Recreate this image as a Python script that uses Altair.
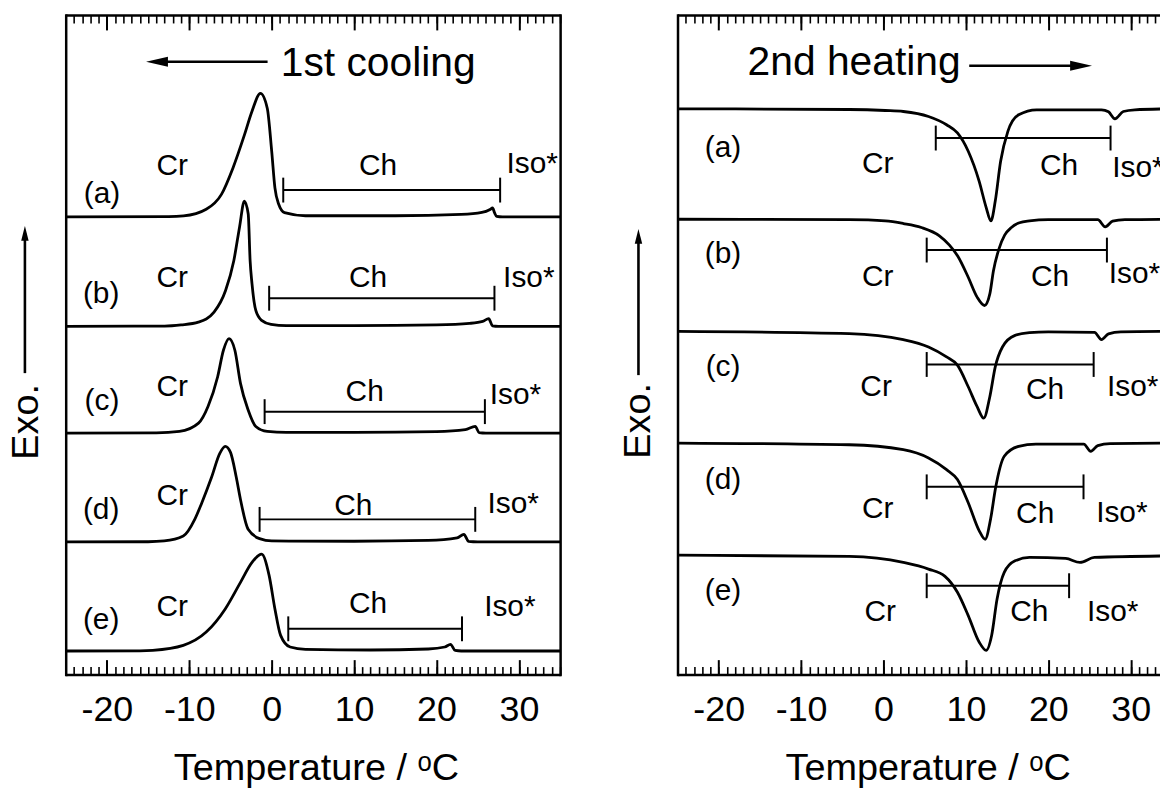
import altair as alt
import pandas as pd

FONT = "Liberation Sans"

# ---------------- data ----------------
samples = ["(a)", "(b)", "(c)", "(d)", "(e)"]
major_ticks = [-20, -10, 0, 10, 20, 30]
minor_ticks = list(range(-25, 36))

# 1st cooling: temperature (degC) and exo-up signal (a.u.) relative to each trace baseline
cool_a_T = [-25, -12.5, -10.7, -7.95, -6.1, -4.7, -3.3, -2.4, -1.37, -0.54, 0.0, 0.39, 0.85, 1.55, 4.1, 15, 23, 25.5, 26.5, 26.8, 27.05, 27.3, 28, 35]
cool_a_S = [0, 0.03, 0.1, 0.77, 2.27, 4.93, 8.27, 10.6, 12.43, 10.93, 6.6, 2.93, 1.27, 0.43, 0.12, 0.12, 0.25, 0.45, 0.75, 0.9, 0.4, 0.05, 0, 0]
cool_b_T = [-25, -13, -11, -8.9, -7.0, -5.6, -4.6, -3.9, -3.32, -2.85, -2.62, -2.39, -1.93, -1.23, -0.08, 1.78, 10, 20, 24, 25.6, 26.33, 26.8, 27.5, 35]
cool_b_S = [0, 0.03, 0.15, 0.43, 1.43, 3.6, 6.6, 10.0, 12.6, 11.3, 6.6, 4.27, 1.6, 0.6, 0.2, 0.07, 0.07, 0.15, 0.3, 0.5, 0.77, 0.05, 0, 0]
cool_c_T = [-25, -14, -11.19, -8.88, -7.73, -6.56, -5.86, -5.18, -4.47, -3.79, -2.86, -1.93, -0.54, 1.78, 10, 20, 23.5, 24.7, 25.17, 26, 35]
cool_c_S = [0, 0.03, 0.17, 1.0, 2.67, 5.67, 8.33, 9.5, 8.33, 5.0, 2.33, 0.67, 0.17, 0.07, 0.07, 0.15, 0.35, 0.67, 0.05, 0, 0]
cool_d_T = [-25, -15, -13.05, -10.73, -9.34, -8.5, -7.3, -6.3, -5.64, -5.0, -4.3, -3.79, -2.86, -1.47, 0, 10, 19, 22.5, 23.32, 23.9, 25, 35]
cool_d_S = [0, 0.02, 0.1, 0.6, 2.27, 3.9, 6.5, 8.9, 9.6, 9.0, 6.5, 4.27, 1.27, 0.33, 0.1, 0.07, 0.15, 0.4, 0.77, 0.05, 0, 0]
cool_e_T = [-25, -16, -14.44, -10.73, -7.95, -5.64, -3.79, -2.39, -1.23, -0.31, 0.39, 1.08, 2.24, 4.1, 12, 19, 21.0, 21.7, 22.26, 23, 35]
cool_e_S = [0, 0.02, 0.07, 0.57, 1.9, 4.23, 6.9, 8.9, 9.73, 7.57, 4.23, 1.57, 0.4, 0.17, 0.1, 0.2, 0.4, 0.67, 0.05, 0, 0]
cool_offset = [46.0, 35.0, 24.27, 13.33, 2.37]

# 2nd heating: endo-down signal (a.u.)
heat_a_T = [-25, -4.16, 0.22, 2.4, 5.46, 7.65, 8.97, 10.28, 11.6, 12.46, 13.03, 13.56, 14.21, 15.09, 16.4, 18.58, 26.45, 27.3, 28.08, 29.1, 30.5, 35]
heat_a_S = [0, -0.07, -0.17, -0.27, -0.77, -1.6, -2.43, -4.27, -7.27, -9.93, -11.27, -9.27, -5.27, -2.27, -0.6, -0.1, -0.1, -0.3, -1.0, -0.27, -0.1, 0]
heat_b_T = [-25, -4.16, 0.22, 2.4, 4.59, 6.78, 8.0, 9.0, 10.28, 11.36, 12.25, 12.9, 13.34, 14.0, 14.7, 15.52, 16.5, 17.71, 20, 26.0, 26.9, 27.8, 29.3, 35]
heat_b_S = [0, -0.05, -0.17, -0.43, -0.83, -1.67, -2.6, -3.7, -5.83, -7.83, -8.67, -7.5, -5.17, -3.0, -1.6, -0.83, -0.35, -0.17, -0.05, -0.05, -0.77, -0.2, -0.05, 0]
heat_c_T = [-25, -4.16, 2.4, 5.46, 7.65, 8.97, 10.28, 11.36, 12.16, 12.9, 13.56, 14.43, 15.96, 17.71, 20, 25.6, 26.45, 27.3, 28.8, 35]
heat_c_S = [0, -0.23, -0.83, -1.57, -2.57, -3.4, -5.57, -7.57, -8.73, -6.57, -3.57, -1.57, -0.4, -0.13, -0.05, -0.1, -0.83, -0.25, -0.05, 0]
heat_d_T = [-25, -4.16, 2.4, 5.46, 7.65, 8.97, 10.28, 11.6, 12.33, 13.0, 13.6, 14.65, 16.4, 18.5, 24.3, 25.15, 26.0, 27.5, 35]
heat_d_S = [0, -0.17, -0.67, -1.5, -2.67, -3.67, -6.0, -8.8, -9.67, -7.6, -4.5, -1.33, -0.33, -0.1, -0.1, -0.83, -0.25, -0.05, 0]
heat_e_T = [-25, -4.16, 2.4, 5.46, 7.46, 8.97, 10.28, 11.6, 12.46, 13.12, 13.78, 14.65, 15.96, 17.71, 22.1, 23.84, 25.59, 35]
heat_e_S = [0, -0.13, -0.73, -1.4, -2.13, -3.73, -6.07, -8.73, -9.57, -8.07, -4.4, -1.73, -0.57, -0.23, -0.33, -0.73, -0.23, -0.07]
heat_offset = [56.87, 45.77, 34.5, 23.27, 12.0]

# Ch range brackets (degC) and their level (a.u.)
cool_ch_lo = [1.4, -0.31, -0.86, -1.47, 2.01]
cool_ch_hi = [27.72, 27.03, 25.87, 24.7, 23.09]
cool_ch_y = [48.7, 37.83, 26.43, 15.6, 4.6]
heat_ch_lo = [6.34, 5.24, 5.24, 5.24, 5.24]
heat_ch_hi = [27.55, 27.11, 25.5, 24.27, 22.52]
heat_ch_y = [53.93, 42.67, 31.17, 18.87, 8.93]

# text anchors
cool_tag_x = [-20.6, -20.7, -20.6, -20.7, -20.7]
cool_tag_y = [48.3, 38.2, 27.5, 16.5, 5.5]
cool_cr_x = [-12.08, -12.08, -12.08, -12.08, -12.08]
cool_cr_y = [51.1, 39.9, 28.9, 17.9, 6.8]
cool_chl_x = [12.91, 11.7, 11.28, 9.9, 11.7]
cool_chl_y = [51.1, 39.9, 28.4, 16.9, 7.1]
cool_iso_x = [31.62, 31.2, 29.57, 29.3, 28.9]
cool_iso_y = [51.3, 39.9, 28.1, 17.1, 6.8]

heat_tag_x = [-19.47, -19.47, -19.47, -19.47, -19.47]
heat_tag_y = [52.93, 42.3, 30.93, 19.6, 8.43]
heat_cr_x = [-0.7, -0.7, -0.9, -0.7, -0.4]
heat_cr_y = [51.27, 39.93, 28.93, 16.6, 6.27]
heat_chl_x = [21.3, 20.2, 19.6, 18.4, 17.7]
heat_chl_y = [51.1, 39.93, 28.6, 16.1, 6.27]
heat_iso_x = [27.76, 27.34, 27.12, 25.8, 24.7]
heat_iso_y = [50.93, 40.27, 28.93, 16.27, 6.27]

cool_head = {"text": "1st cooling", "x": 1.1, "y": 61.4, "arrow_tail": -0.5, "arrow_tip": -15.25, "arrow_y": 61.6}
heat_head = {"text": "2nd heating", "x": -16.5, "y": 61.5, "arrow_tail": 10.4, "arrow_tip": 25.3, "arrow_y": 61.2}
cool_exo = {"x": -29.95, "tail": 30.3, "tip": 45.1, "tx": -29.7, "ty": 25.4}
heat_exo = {"x": -29.74, "tail": 30.1, "tip": 44.8, "tx": -29.7, "ty": 25.5}

# ---------------- layout constants ----------------
W = 497
W_R = 485           # right panel is cut off by the page edge
H = 663
Y_TOP = 66.3
XDOM = [-25, 35]
PXPU_X = W / (XDOM[1] - XDOM[0])
XDOM_R = [-25, -25 + W_R / PXPU_X]
PXPU_Y = H / Y_TOP
HEAD_H = 22  # px, horizontal arrowheads
HEAD_V = 15  # px, vertical arrowheads
PATH_LEFT = "M0,0L2,-0.45L2,0.45Z"
PATH_RIGHT = "M0,0L-2,-0.45L-2,0.45Z"
PATH_UP = "M0,0L-0.5,2L0.5,2Z"


def curves_df(Ts, Ss, offsets):
    rows = []
    for k, (T, S, off) in enumerate(zip(Ts, Ss, offsets)):
        for i, (t, s) in enumerate(zip(T, S)):
            rows.append({"s": samples[k], "i": i, "T": t, "y": off + s})
    return pd.DataFrame(rows)


def tick_axis(orient, values, size, width, domain):
    return alt.Axis(orient=orient, offset=-H, values=values, ticks=True,
                    tickSize=size, tickWidth=width, tickColor="black",
                    labels=False, domain=domain, domainColor="black",
                    domainWidth=2.5, domainCap="butt", grid=False)


def y_axis(orient):
    return alt.Axis(orient=orient, domain=True, domainColor="black", domainWidth=2.5,
                    domainCap="square", ticks=False, labels=False, grid=False)


def panel(curves, lo, hi, by, tag_x, tag_y, cr_x, cr_y, ch_x, ch_y, iso_x, iso_y,
          iso_align, head, exo, head_dir, xdom, width, right_border):
    xs = alt.Scale(domain=xdom, nice=False, zero=False)
    ys = alt.Scale(domain=[0, Y_TOP], nice=False, zero=False)
    minors = [v for v in minor_ticks if v <= xdom[1]]
    clip = not right_border

    label_axis = alt.Axis(orient="bottom", values=major_ticks, labelExpr="'' + datum.value",
                          ticks=False, labelFont=FONT, labelFontSize=36, labelColor="black",
                          labelPadding=18, labelFlush=False, labelOverlap=False,
                          domain=True, domainColor="black", domainWidth=2.5, domainCap="butt",
                          grid=False, title="Temperature / ᵒC", titleFont=FONT,
                          titleFontSize=38, titleFontWeight="normal", titleColor="black",
                          titleY=75, titleX=W / 2 + 3, titleBaseline="top")

    lines = alt.Chart(curves).mark_line(color="black", strokeWidth=2.8, clip=clip,
                                        interpolate="monotone").encode(
        x=alt.X("T:Q", scale=xs, axis=label_axis),
        y=alt.Y("y:Q", scale=ys, axis=y_axis("left"), title=None),
        detail="s:N", order="i:Q")

    br = pd.DataFrame({"lo": lo, "hi": hi, "y": by})
    bars = alt.Chart(br).mark_rule(color="black", strokeWidth=2).encode(
        x=alt.X("lo:Q", scale=xs, axis=tick_axis("top", major_ticks, 15, 2, False), title=None),
        x2="hi:Q",
        y=alt.Y("y:Q", scale=ys, axis=y_axis("right") if right_border else None, title=None))

    caps = pd.DataFrame({
        "x": lo + hi,
        "y1": [v - 1.25 for v in by] * 2,
        "y2": [v + 1.25 for v in by] * 2,
    })
    cap_rules = alt.Chart(caps).mark_rule(color="black", strokeWidth=2).encode(
        x=alt.X("x:Q", scale=xs, axis=tick_axis("top", minors, 8, 1.6, False), title=None),
        y=alt.Y("y1:Q", scale=ys, axis=None), y2="y2:Q")

    lab = pd.DataFrame({
        "x": tag_x + cr_x + ch_x,
        "y": tag_y + cr_y + ch_y,
        "t": samples + ["Cr"] * 5 + ["Ch"] * 5,
    })
    labels = alt.Chart(lab).mark_text(font=FONT, fontSize=30, color="black",
                                      align="center", baseline="middle").encode(
        x=alt.X("x:Q", scale=xs, axis=tick_axis("bottom", major_ticks, 15, 2, True), title=None),
        y=alt.Y("y:Q", scale=ys, axis=None), text="t:N")

    iso = pd.DataFrame({"x": iso_x, "y": iso_y, "t": ["Iso*"] * 5})
    isos = alt.Chart(iso).mark_text(font=FONT, fontSize=30, color="black", clip=clip,
                                    align=iso_align, baseline="middle").encode(
        x=alt.X("x:Q", scale=xs, axis=tick_axis("bottom", minors, 8, 1.6, False), title=None),
        y=alt.Y("y:Q", scale=ys, axis=None), text="t:N")

    # header text
    htxt = alt.Chart(pd.DataFrame([{"x": head["x"], "y": head["y"], "t": head["text"]}])).mark_text(
        font=FONT, fontSize=41, color="black", align="left", baseline="middle").encode(
        x=alt.X("x:Q", scale=xs, axis=None), y=alt.Y("y:Q", scale=ys, axis=None), text="t:N")

    # Exo. label
    etxt = alt.Chart(pd.DataFrame([{"x": exo["tx"], "y": exo["ty"], "t": "Exo."}])).mark_text(
        font=FONT, fontSize=38, color="black", align="center", baseline="middle", angle=270).encode(
        x=alt.X("x:Q", scale=xs, axis=None), y=alt.Y("y:Q", scale=ys, axis=None), text="t:N")

    # arrows: shafts stop half a head before the tip
    sgn = 1 if head_dir == "right" else -1
    h_half = (HEAD_H / 2) / PXPU_X
    v_half = (HEAD_V / 2) / PXPU_Y
    shafts = pd.DataFrame([
        {"x": head["arrow_tail"], "x2": head["arrow_tip"] - sgn * h_half,
         "y": head["arrow_y"], "y2": head["arrow_y"]},
        {"x": exo["x"], "x2": exo["x"], "y": exo["tail"], "y2": exo["tip"] - v_half},
    ])
    shaft = alt.Chart(shafts).mark_rule(color="black", strokeWidth=2.6).encode(
        x=alt.X("x:Q", scale=xs, axis=None), x2="x2:Q",
        y=alt.Y("y:Q", scale=ys, axis=None), y2="y2:Q")

    hhead = alt.Chart(pd.DataFrame([{"x": head["arrow_tip"], "y": head["arrow_y"]}])).mark_point(
        shape=PATH_RIGHT if head_dir == "right" else PATH_LEFT, size=HEAD_H ** 2,
        filled=True, color="black", opacity=1, strokeWidth=0).encode(
        x=alt.X("x:Q", scale=xs, axis=None), y=alt.Y("y:Q", scale=ys, axis=None))
    vhead = alt.Chart(pd.DataFrame([{"x": exo["x"], "y": exo["tip"]}])).mark_point(
        shape=PATH_UP, size=HEAD_V ** 2, filled=True, color="black", opacity=1,
        strokeWidth=0).encode(
        x=alt.X("x:Q", scale=xs, axis=None), y=alt.Y("y:Q", scale=ys, axis=None))

    return alt.layer(lines, bars, cap_rules, labels, isos, htxt, etxt, shaft, hhead, vhead).resolve_axis(
        x="independent", y="independent").properties(width=width, height=H)


left = panel(curves_df([cool_a_T, cool_b_T, cool_c_T, cool_d_T, cool_e_T],
                       [cool_a_S, cool_b_S, cool_c_S, cool_d_S, cool_e_S], cool_offset),
             cool_ch_lo, cool_ch_hi, cool_ch_y,
             cool_tag_x, cool_tag_y, cool_cr_x, cool_cr_y, cool_chl_x, cool_chl_y,
             cool_iso_x, cool_iso_y, "center", cool_head, cool_exo, "left",
             XDOM, W, True)

right = panel(curves_df([heat_a_T, heat_b_T, heat_c_T, heat_d_T, heat_e_T],
                        [heat_a_S, heat_b_S, heat_c_S, heat_d_S, heat_e_S], heat_offset),
              heat_ch_lo, heat_ch_hi, heat_ch_y,
              heat_tag_x, heat_tag_y, heat_cr_x, heat_cr_y, heat_chl_x, heat_chl_y,
              heat_iso_x, heat_iso_y, "left", heat_head, heat_exo, "right",
              XDOM_R, W_R, False)

chart = alt.hconcat(left, right, spacing=118, bounds="flush").properties(
    padding={"left": 0, "top": 4, "right": 0, "bottom": 0},
    background="white",
).configure_view(stroke=None)

chart.save("out.html", embed_options={"renderer": "svg", "actions": False})
